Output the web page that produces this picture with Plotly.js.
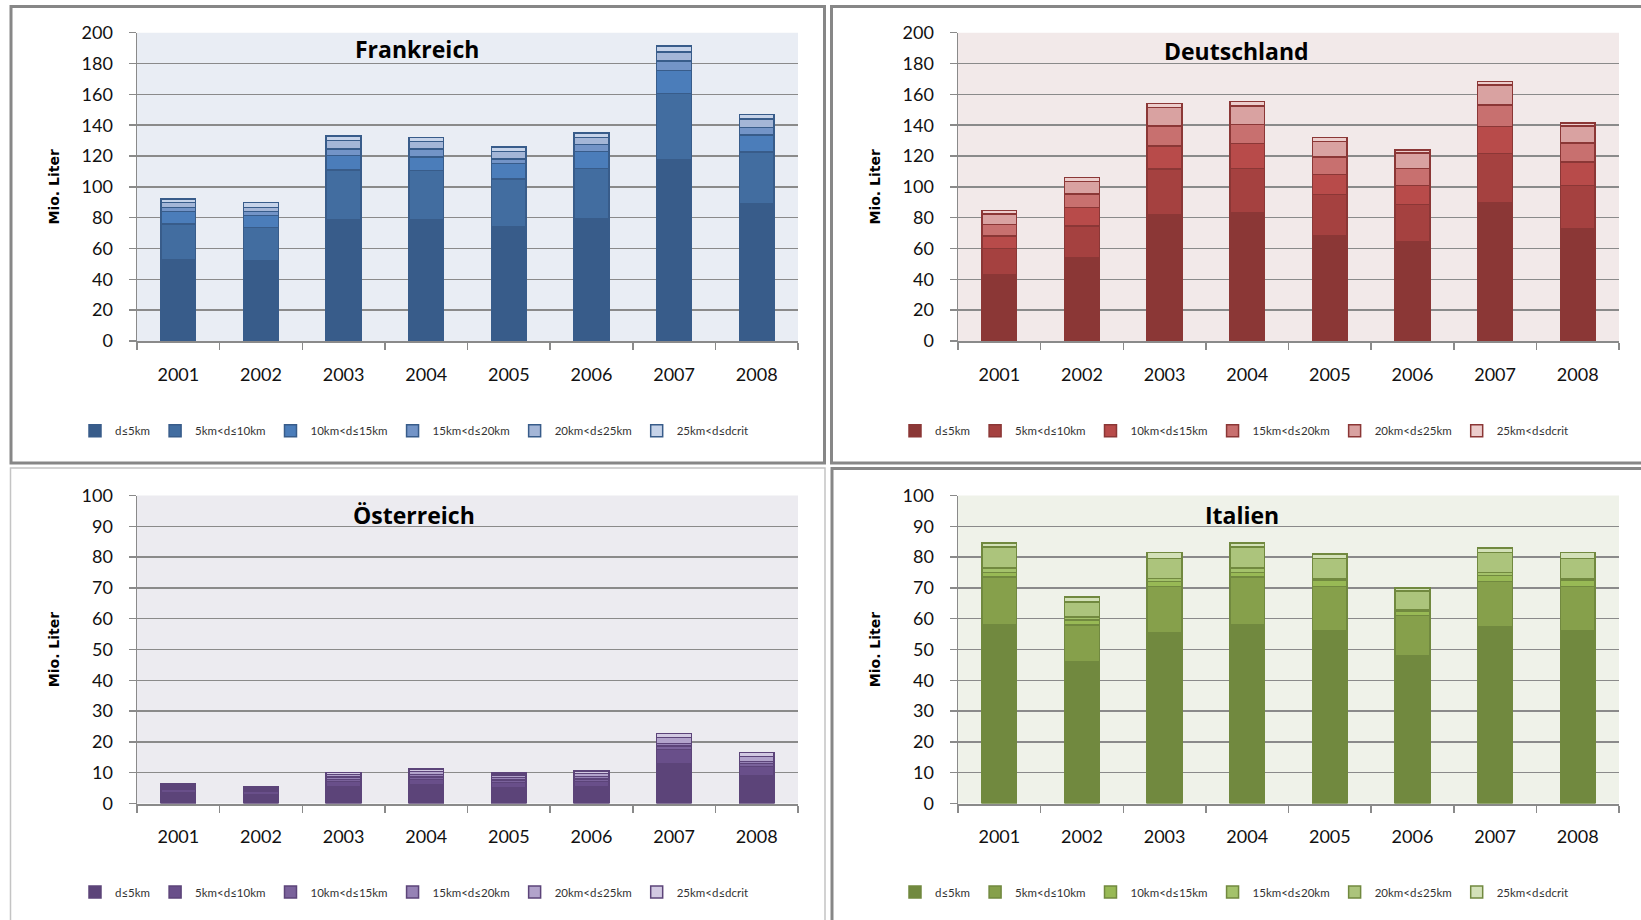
<!DOCTYPE html>
<html>
<head>
<meta charset="utf-8">
<script src="https://cdn.plot.ly/plotly-3.0.1.min.js"></script>
<style>
  html, body { margin: 0; padding: 0; background: #ffffff; }
  #chart { width: 1641px; height: 920px; }
</style>
</head>
<body>
<div id="chart"></div>
<script>
// Years on the category axis
const years = ['2001', '2002', '2003', '2004', '2005', '2006', '2007', '2008'];

// Distance bands (stack order, bottom to top)
const bands = ['d≤5km', '5km<d≤10km', '10km<d≤15km', '15km<d≤20km', '20km<d≤25km', '25km<d≤dcrit'];

// Volumes in Mio. Liter, one row per distance band
const frankreich = [
  [53, 52, 78.5, 78.5, 74, 79.5, 117.5, 89],
  [23, 21.5, 32.5, 32, 31, 32.5, 43, 33.5],
  [8, 8, 9.5, 9, 10, 11, 15, 11],
  [2.5, 2.5, 4, 5, 3, 4.5, 6, 5],
  [3.5, 2.5, 5.5, 5, 5, 4.5, 6, 5.5],
  [2, 3.5, 3, 2.5, 3, 3, 4, 3]
];

const deutschland = [
  [43, 54, 82, 83, 68.5, 64.5, 89.5, 73],
  [17, 20.5, 29.5, 29, 26.5, 24, 32, 28],
  [8, 12, 15, 16, 13, 12.5, 17.5, 15],
  [7.5, 9, 13, 12.5, 11.5, 11, 14, 12.5],
  [7, 8, 12, 12, 10, 10, 13, 11],
  [2, 2.5, 2.5, 3, 2.5, 1.8, 2.5, 2]
];

const oesterreich = [
  [3.5, 2.8, 5.4, 6, 5, 5.6, 13, 9],
  [1.2, 1.2, 1.8, 1.8, 1.8, 1.6, 4.5, 3],
  [0.5, 0.4, 0.6, 0.8, 0.8, 0.8, 1.2, 1],
  [0.5, 0.4, 0.8, 0.8, 0.8, 0.8, 0.8, 0.7],
  [0.4, 0.3, 0.8, 1, 0.8, 0.9, 2, 1.5],
  [0.4, 0.3, 0.6, 0.8, 0.7, 0.8, 1.3, 1.3]
];

const italien = [
  [58, 46, 55.5, 58, 56, 48, 57.5, 56],
  [15.5, 12, 15, 15.5, 14.5, 13, 14.5, 14.5],
  [1.5, 1.5, 1.5, 1.5, 2, 1.5, 2, 2],
  [1.5, 1, 1, 1.5, 0.5, 0.5, 1, 0.5],
  [6.8, 5, 6.5, 6.8, 6.5, 6, 6.5, 6.5],
  [1.3, 1.5, 2, 1.3, 1.5, 1, 1.5, 2]
];

// Page geometry helpers: pixel position -> paper fraction (margins are zero)
const W = 1641, H = 920;
const px = x => x / W;
const py = y => 1 - y / H;

const panels = [
  {
    title: 'Frankreich', rows: frankreich, ymax: 200, dtick: 20,
    colors: ['#385C8A', '#426DA0', '#4B7DBA', '#7394C7', '#A4B6D7', '#C6D3E9'],
    edge: '#385C8A', bg: '#E9EDF4',
    box: { l: 137, r: 798, t: 32.7, b: 341 }, titlePos: [416.5, 49], legendPos: [75, 430.7]
  },
  {
    title: 'Deutschland', rows: deutschland, ymax: 200, dtick: 20,
    colors: ['#8B3736', '#A54140', '#B84B4A', '#C8706F', '#D9A2A1', '#ECCDCC'],
    edge: '#8B3736', bg: '#F2E9E9',
    box: { l: 958, r: 1619, t: 32.7, b: 341 }, titlePos: [1236.5, 51], legendPos: [895, 430.7]
  },
  {
    title: 'Österreich', rows: oesterreich, ymax: 100, dtick: 10,
    colors: ['#5C4479', '#694F8A', '#7A629B', '#9682B5', '#B2A3CB', '#D2C9E2'],
    edge: '#5C4479', bg: '#ECEBF0',
    box: { l: 137, r: 798, t: 495.5, b: 803.5 }, titlePos: [414, 515], legendPos: [75, 892]
  },
  {
    title: 'Italien', rows: italien, ymax: 100, dtick: 10,
    colors: ['#71893F', '#86A04B', '#98B955', '#A4C26B', '#ACC47C', '#D3E1B8'],
    edge: '#71893F', bg: '#EFF2E9',
    box: { l: 958, r: 1619, t: 495.5, b: 803.5 }, titlePos: [1242, 515], legendPos: [895, 892]
  }
];

const axisGray = '#8A8A8A';
const tickFont = { family: 'Lato, Open Sans, sans-serif', size: 18, color: '#111111' };

const traces = [];
const layout = {
  width: W, height: H,
  margin: { l: 0, r: 0, t: 0, b: 0, pad: 0 },
  paper_bgcolor: '#ffffff',
  plot_bgcolor: 'rgba(0,0,0,0)',
  barmode: 'stack',
  bargap: 0.58,
  hovermode: false,
  showlegend: true,
  shapes: [],
  annotations: []
};

panels.forEach((p, i) => {
  const s = i === 0 ? '' : String(i + 1);
  const legendId = 'legend' + s;

  p.rows.forEach((vals, k) => {
    traces.push({
      type: 'bar',
      x: years,
      y: vals,
      name: bands[k],
      xaxis: 'x' + s,
      yaxis: 'y' + s,
      legend: legendId,
      marker: { color: p.colors[k], line: { color: p.edge, width: 1.5 } },
      hoverinfo: 'skip'
    });
  });

  layout['xaxis' + s] = {
    type: 'category',
    domain: [px(p.box.l), px(p.box.r)],
    anchor: 'y' + s,
    showgrid: false,
    zeroline: false,
    showline: true, linecolor: axisGray, linewidth: 2,
    ticks: 'outside', ticklen: 7, tickwidth: 1.5, tickcolor: axisGray,
    tickson: 'boundaries',
    tickfont: tickFont,
    ticklabelstandoff: 16,
    fixedrange: true
  };

  layout['yaxis' + s] = {
    domain: [py(p.box.b), py(p.box.t)],
    anchor: 'x' + s,
    range: [0, p.ymax],
    tick0: 0, dtick: p.dtick,
    showgrid: true, gridcolor: axisGray, gridwidth: 1.5,
    zeroline: false,
    showline: true, linecolor: axisGray, linewidth: 1.5,
    ticks: 'outside', ticklen: 7, tickwidth: 1.5, tickcolor: axisGray,
    tickfont: tickFont,
    ticklabelstandoff: 12,
    fixedrange: true,
    title: {
      text: 'Mio. Liter',
      font: { family: 'DejaVu Sans, sans-serif', size: 14, color: '#000000', weight: 700 },
      standoff: 18
    }
  };

  layout[legendId] = {
    orientation: 'h',
    xref: 'paper', yref: 'paper',
    x: px(p.legendPos[0]), y: py(p.legendPos[1]),
    xanchor: 'left', yanchor: 'middle',
    traceorder: 'normal',
    bgcolor: 'rgba(0,0,0,0)',
    font: { family: 'Lato, Open Sans, sans-serif', size: 11.5, color: '#333333' },
    itemclick: false, itemdoubleclick: false
  };

  // plot-area tint, under the gridlines
  layout.shapes.push({
    type: 'rect', layer: 'below',
    xref: 'x' + s + ' domain', yref: 'y' + s + ' domain',
    x0: 0, x1: 1, y0: 0, y1: 1,
    fillcolor: p.bg, line: { width: 0 }
  });

  layout.annotations.push({
    xref: 'paper', yref: 'paper',
    x: px(p.titlePos[0]), y: py(p.titlePos[1]),
    xanchor: 'center', yanchor: 'middle',
    text: p.title, showarrow: false,
    font: { family: 'Open Sans, sans-serif', size: 23, color: '#000000', weight: 700 }
  });
});

// Frames around the four chart panels
const frames = [
  { x0: 11, x1: 824.5, y0: 6.5, y1: 463, w: 3, c: '#878787' },
  { x0: 831.5, x1: 1660, y0: 6.5, y1: 463, w: 3, c: '#878787' },
  { x0: 10.5, x1: 825, y0: 468, y1: 940, w: 1.5, c: '#C4C4C4' },
  { x0: 832, x1: 1660, y0: 468.5, y1: 940, w: 3, c: '#878787' }
];
frames.forEach(f => {
  layout.shapes.push({
    type: 'rect', layer: 'above',
    xref: 'paper', yref: 'paper',
    x0: px(f.x0), x1: px(f.x1), y0: py(f.y1), y1: py(f.y0),
    line: { color: f.c, width: f.w }, fillcolor: 'rgba(0,0,0,0)'
  });
});

Plotly.newPlot('chart', traces, layout, { displayModeBar: false, staticPlot: true });
</script>
</body>
</html>
